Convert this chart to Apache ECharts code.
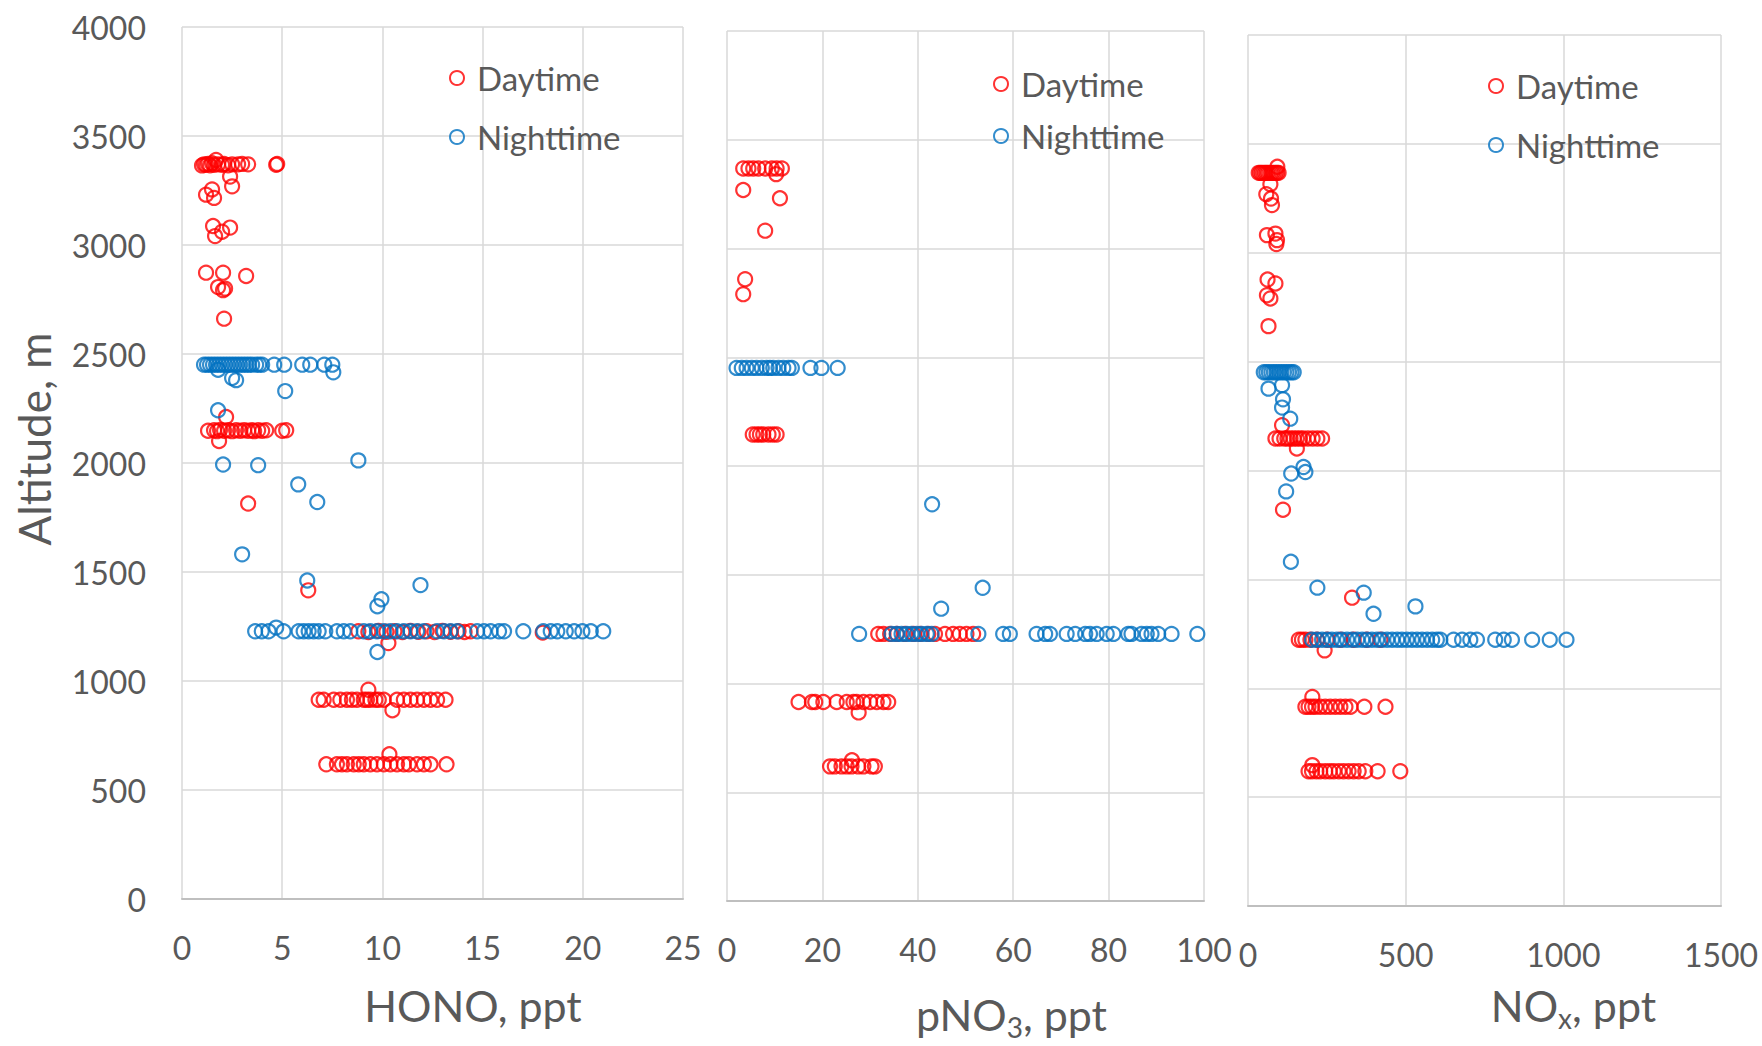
<!DOCTYPE html>
<html>
<head>
<meta charset="utf-8">
<script src="https://cdn.jsdelivr.net/npm/echarts/dist/echarts.min.js"></script>
<style>
  html, body { margin: 0; padding: 0; background: #fff; }
  #main { width: 1762px; height: 1046px; }
</style>
</head>
<body>
<div id="main"></div>
<script>
// [value, altitude m] pairs
var honoDay = [
  [1.0,3365],[1.1,3370],[1.2,3368],[1.3,3372],[1.4,3366],[1.5,3375],[1.6,3368],[1.7,3390],[1.8,3370],
  [2.0,3368],[2.1,3372],[2.3,3366],[2.5,3370],[2.8,3370],[3.0,3372],[3.3,3370],[4.7,3368],[4.75,3372],
  [2.4,3314],[2.5,3269],[1.2,3231],[1.5,3255],[1.6,3216],[1.55,3087],[2.4,3080],[1.65,3041],[2.0,3061],
  [1.2,2873],[2.05,2873],[3.2,2858],[1.8,2807],[2.15,2800],[2.05,2793],[2.1,2662],
  [1.3,2148],[1.6,2150],[1.75,2146],[1.9,2152],[2.1,2148],[2.3,2150],[2.5,2146],[2.7,2150],[2.9,2148],
  [3.1,2150],[3.3,2148],[3.5,2150],[3.6,2146],[3.8,2150],[4.0,2148],[4.2,2150],[5.0,2148],[5.2,2150],
  [2.2,2211],[1.85,2101],[3.3,1814],[6.3,1416],
  [8.8,1228],[9.3,1225],[9.8,1230],[10.2,1226],[10.6,1228],[11.0,1225],[11.4,1230],[11.8,1226],[12.2,1228],
  [12.6,1225],[13.0,1230],[13.4,1226],[13.8,1228],[14.1,1225],[14.4,1228],[18.0,1222],[10.3,1174],
  [6.82,914],[7.07,914],[7.57,914],[7.9,914],[8.23,914],[8.48,914],[8.73,914],[9.07,914],[9.23,914],[9.4,914],
  [9.65,914],[9.82,914],[10.07,914],[10.73,914],[11.07,914],[11.4,914],[11.73,914],[12.07,914],[12.4,914],
  [12.73,914],[13.15,914],[9.3,960],[10.5,866],
  [7.2,618],[7.73,618],[7.98,618],[8.23,618],[8.57,618],[8.82,618],[9.07,618],[9.4,618],[9.73,618],
  [10.07,618],[10.4,618],[10.73,618],[11.07,618],[11.32,618],[11.73,618],[12.07,618],[12.4,618],[13.2,618],
  [10.35,664]
];
var honoNight = [
  [1.1,2451],[1.25,2451],[1.4,2451],[1.55,2451],[1.7,2451],[1.85,2451],[2.0,2451],[2.15,2451],[2.3,2451],
  [2.45,2451],[2.6,2451],[2.75,2451],[2.9,2451],[3.05,2451],[3.2,2451],[3.35,2451],[3.5,2451],[3.7,2451],
  [3.85,2451],[4.0,2451],[4.6,2451],[5.1,2451],[6.0,2451],[6.4,2451],[7.1,2451],[7.5,2451],
  [7.55,2416],[1.8,2428],[2.5,2390],[2.7,2380],[5.15,2330],[1.8,2242],[2.05,1993],[3.8,1990],[8.8,2012],
  [5.8,1902],[6.75,1821],[3.0,1581],[6.25,1461],[11.9,1440],[9.95,1375],[9.75,1343],[9.75,1133],[4.7,1245],
  [3.65,1228],[3.98,1228],[4.32,1228],[5.07,1228],[5.82,1228],[6.07,1228],[6.32,1228],[6.57,1228],
  [6.82,1228],[7.15,1228],[7.73,1228],[8.07,1228],[8.4,1228],[9.07,1228],[9.4,1228],[9.73,1228],[10.07,1228],
  [10.4,1228],[10.73,1228],[11.07,1228],[11.4,1228],[11.73,1228],[12.07,1228],[12.73,1228],[13.07,1228],
  [13.4,1228],[13.73,1228],[14.73,1228],[15.07,1228],[15.4,1228],[15.82,1228],[16.07,1228],[17.03,1228],
  [18.03,1228],[18.4,1228],[18.73,1228],[19.15,1228],[19.57,1228],[19.98,1228],[20.4,1228],[21.02,1228]
];
var pno3Day = [
  [3.4,3368],[4.5,3368],[5.5,3368],[6.6,3368],[8.0,3368],[9.4,3368],[10.4,3368],[11.5,3368],[10.3,3342],
  [3.4,3269],[11.1,3231],[8.0,3082],[3.8,2859],[3.4,2790],
  [5.4,2145],[6.2,2145],[6.9,2145],[7.6,2145],[8.7,2145],[9.6,2145],[10.4,2145],
  [31.7,1228],[32.8,1228],[34.2,1228],[35.6,1228],[37.3,1228],[39.1,1228],[40.5,1228],[42.2,1228],
  [43.6,1228],[45.7,1228],[47.4,1228],[48.8,1228],[50.2,1228],[51.6,1228],
  [15.0,915],[17.8,915],[18.5,915],[20.2,915],[23.0,915],[25.1,915],[26.5,915],[27.2,915],[28.6,915],
  [30.0,915],[31.4,915],[32.8,915],[33.8,915],[27.6,867],
  [21.6,619],[22.6,619],[24.0,619],[25.1,619],[26.1,619],[27.5,619],[28.6,619],[30.3,619],[31.0,619],[26.2,647]
];
var pno3Night = [
  [2.0,2451],[3.1,2451],[4.1,2451],[5.2,2451],[6.2,2451],[7.3,2451],[8.3,2451],[9.0,2451],[9.7,2451],
  [10.8,2451],[11.8,2451],[12.9,2451],[13.6,2451],[17.5,2451],[19.8,2451],[23.2,2451],
  [43.0,1824],[53.6,1440],[44.9,1344],
  [27.7,1228],[34.5,1228],[35.6,1228],[36.6,1228],[37.7,1228],[38.7,1228],[39.8,1228],[40.8,1228],
  [41.9,1228],[42.9,1228],[52.7,1228],[57.9,1228],[59.3,1228],[64.9,1228],[66.7,1228],[67.7,1228],
  [71.2,1228],[73.0,1228],[75.1,1228],[76.1,1228],[77.5,1228],[79.6,1228],[81.0,1228],[84.1,1228],
  [84.8,1228],[86.9,1228],[88.0,1228],[89.0,1228],[90.4,1228],[93.2,1228],[98.6,1228]
];
var noxDay = [
  [34,3367],[39,3367],[44,3367],[50,3367],[55,3367],[60,3367],[65,3367],[71,3367],[76,3367],[81,3367],
  [87,3367],[92,3367],[97,3367],[93,3395],[71,3315],[58,3269],[73,3249],[76,3219],[60,3081],[87,3088],
  [92,3058],[90,3040],[62,2877],[87,2859],[60,2805],[71,2790],[65,2663],
  [108,2208],[87,2147],[100,2147],[115,2147],[125,2147],[135,2147],[145,2147],[155,2147],[165,2147],
  [175,2147],[190,2147],[205,2147],[220,2147],[235,2147],[155,2101],[111,1820],[330,1416],
  [161,1223],[171,1223],[182,1223],[198,1223],[219,1223],[251,1223],[293,1223],[335,1223],[377,1223],
  [420,1223],[243,1174],
  [182,915],[192,915],[203,915],[214,915],[229,915],[245,915],[261,915],[277,915],[293,915],[309,915],
  [325,915],[369,915],[436,915],[204,960],
  [192,619],[203,619],[217,619],[229,619],[245,619],[259,619],[272,619],[288,619],[303,619],[319,619],
  [335,619],[351,619],[372,619],[411,619],[483,619],[204,647]
];
var noxNight = [
  [50,2451],[58,2451],[66,2451],[74,2451],[82,2451],[90,2451],[98,2451],[106,2451],[114,2451],[122,2451],
  [130,2451],[138,2451],[145,2451],[65,2376],[108,2392],[111,2327],[108,2289],[134,2238],[176,2016],
  [182,1993],[137,1986],[121,1904],[136,1581],[220,1462],[367,1439],[398,1342],[531,1376],
  [203,1223],[219,1223],[235,1223],[251,1223],[266,1223],[282,1223],[298,1223],[314,1223],[330,1223],
  [346,1223],[362,1223],[377,1223],[393,1223],[409,1223],[425,1223],[441,1223],[457,1223],[473,1223],
  [488,1223],[504,1223],[520,1223],[536,1223],[552,1223],[568,1223],[584,1223],[599,1223],[610,1223],
  [652,1223],[679,1223],[705,1223],[726,1223],[784,1223],[811,1223],[837,1223],[901,1223],[957,1223],[1010,1223]
];

var xMax = [25, 100, 1500];
var xStep = [5, 20, 500];
var altMax = 4000, altStep = 500;

var FONT = 'Lato';
var TXT = '#595959';
var RED = '#FF0000', BLUE = '#0070C0';

var chart = echarts.init(document.getElementById('main'), null, { renderer: 'svg' });

var grids = [
  { left: 182, top: 27, width: 501, height: 872 },
  { left: 727, top: 31, width: 477, height: 872 },
  { left: 1248, top: 35, width: 473, height: 871 }
];

var xNames = [
  { name: 'HONO, ppt', gap: 85, pad: 81 },
  { name: '{a|pNO}{s|3}{a|, ppt}', gap: 92, pad: 92 },
  { name: '{a|NO}{s|x}{a|, ppt}', gap: 78, pad: 178 }
];

function plain(v) { return String(v); }

var xAxes = xNames.map(function (n, i) {
  return {
    type: 'value', gridIndex: i, min: 0, max: xMax[i], interval: xStep[i],
    name: n.name, nameLocation: 'middle', nameGap: n.gap,
    nameTextStyle: {
      fontSize: 43, color: TXT, fontFamily: FONT, padding: [0, 0, 0, n.pad],
      rich: {
        a: { fontSize: 43, lineHeight: 43, verticalAlign: 'top', color: TXT, fontFamily: FONT },
        s: { fontSize: 28, verticalAlign: 'top', padding: [20, 0, 0, 0], color: TXT, fontFamily: FONT }
      }
    },
    axisLine: { show: true, lineStyle: { color: '#BFBFBF', width: 2 } },
    axisTick: { show: false },
    axisLabel: { fontSize: 32, color: TXT, fontFamily: FONT, margin: 32, formatter: plain,
      showMinLabel: true, showMaxLabel: true },
    splitLine: { show: true, lineStyle: { color: '#D9D9D9', width: 1.5 } }
  };
});

var yAxes = [0, 1, 2].map(function (i) {
  return {
    type: 'value', gridIndex: i, min: 0, max: altMax, interval: altStep,
    name: i === 0 ? 'Altitude, m' : '', nameLocation: 'middle', nameGap: 126,
    nameTextStyle: { fontSize: 44, color: TXT, fontFamily: FONT, padding: [0, 0, 0, 48] },
    axisLine: { show: false },
    axisTick: { show: false },
    axisLabel: { show: i === 0, fontSize: 32, color: TXT, fontFamily: FONT, margin: 36, formatter: plain },
    splitLine: { show: true, lineStyle: { color: '#D9D9D9', width: 1.5 } }
  };
});

function dots(name, data, idx, color) {
  return {
    type: 'scatter', name: name, data: data, xAxisIndex: idx, yAxisIndex: idx,
    symbol: 'circle', symbolSize: 14, silent: true,
    itemStyle: { color: 'rgba(0,0,0,0)', borderColor: color, borderWidth: 2.2 }
  };
}

function legendAt(left, top, gap) {
  return {
    left: left, top: top, orient: 'vertical', selectedMode: false,
    itemWidth: 14, itemHeight: 14, itemGap: gap,
    data: ['Daytime', 'Nighttime'],
    itemStyle: { color: 'rgba(0,0,0,0)', borderWidth: 2 },
    textStyle: { fontSize: 33, color: TXT, fontFamily: FONT, lineHeight: 36, padding: [0, 0, 0, 8] }
  };
}

chart.setOption({
  animation: false,
  backgroundColor: '#fff',
  grid: grids,
  xAxis: xAxes,
  yAxis: yAxes,
  legend: [legendAt(444, 55, 23), legendAt(988, 61, 16), legendAt(1483, 63, 23)],
  series: [
    dots('Daytime', honoDay, 0, RED), dots('Nighttime', honoNight, 0, BLUE),
    dots('Daytime', pno3Day, 1, RED), dots('Nighttime', pno3Night, 1, BLUE),
    dots('Daytime', noxDay, 2, RED), dots('Nighttime', noxNight, 2, BLUE)
  ]
});
</script>
</body>
</html>
